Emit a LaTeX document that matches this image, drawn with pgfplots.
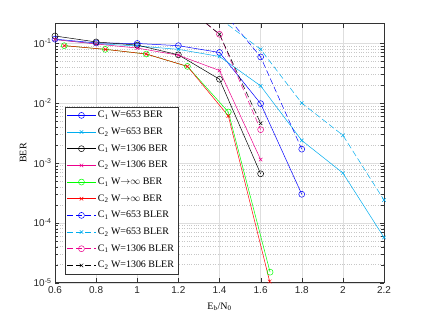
\documentclass[border=0pt]{standalone}
\usepackage{pgfplots}
\pgfplotsset{compat=1.18}
\usepackage{fontspec}
\setmainfont{Liberation Serif}
\newfontfamily\sansf{Liberation Sans}
\begin{document}
\begin{tikzpicture}
\path[use as bounding box] (-55bp,-36.3bp) rectangle (370bp,282.7bp);
\begin{axis}[
  at={(0,0)}, anchor=south west, scale only axis,
  width=329bp, height=259.4bp,
  xmin=0.6, xmax=2.2, ymode=log, ymin=1e-5, ymax=0.215,
  xtick={0.6,0.8,1,1.2,1.4,1.6,1.8,2,2.2},
  xticklabels={0.6,0.8,1,1.2,1.4,1.6,1.8,2,2.2},
  ytick={1e-5,1e-4,1e-3,1e-2,1e-1},
  yticklabels={10\textsuperscript{-5},10\textsuperscript{-4},10\textsuperscript{-3},10\textsuperscript{-2},10\textsuperscript{-1}},
  ticklabel style={font=\sansf\fontsize{10}{12}\selectfont, text=black!85},
  grid=both,
  major grid style={black!13, line width=0.4pt},
  minor grid style={black!22, dotted, line width=0.4pt},
  axis line style={black!80, line width=0.5pt},
  tick style={black!80},
  xlabel={E\textsubscript{b}/N\textsubscript{0}},
  ylabel={BER},
  xlabel style={at={(axis description cs:0.5,-0.0925)}, anchor=center, font=\fontsize{10}{12}\selectfont},
  ylabel style={at={(axis description cs:-0.097,0.5)}, anchor=center, font=\fontsize{10}{12}\selectfont},
  legend style={at={(axis description cs:0.03,0.033)}, anchor=south west,
    font=\fontsize{10}{12}\selectfont, draw=black!80, fill=white, row sep=4.6pt,
    inner xsep=2pt, inner ysep=2.5pt},
  legend cell align=left,
  legend image code/.code={\draw[mark repeat=2,mark phase=2] plot coordinates {(0cm,0cm)(0.5cm,0cm)(1.0cm,0cm)};},
  every axis plot/.append style={line width=0.5pt},
]
% C1 W=653 BER
\addplot[blue, mark=o, mark size=3pt] coordinates {(0.6,0.117)(0.8,0.101)(1.0,0.099)(1.2,0.091)(1.4,0.070)(1.6,0.0098)(1.8,0.00030)};
\addlegendentry{C\textsubscript{1} W=653 BER}
% C2 W=653 BER
\addplot[cyan, mark=x, mark size=2.5pt] coordinates {(0.6,0.115)(0.8,0.098)(1.0,0.090)(1.2,0.079)(1.4,0.060)(1.6,0.0194)(1.8,0.00238)(2.0,0.00068)(2.2,0.000057)};
\addlegendentry{C\textsubscript{2} W=653 BER}
% C1 W=1306 BER
\addplot[black, mark=o, mark size=3pt] coordinates {(0.6,0.132)(0.8,0.105)(1.0,0.093)(1.2,0.064)(1.4,0.025)(1.6,0.00066)};
\addlegendentry{C\textsubscript{1} W=1306 BER}
% C2 W=1306 BER
\addplot[magenta, mark=x, mark size=2.5pt] coordinates {(0.6,0.115)(0.8,0.097)(1.0,0.083)(1.2,0.063)(1.4,0.035)(1.6,0.00114)};
\addlegendentry{C\textsubscript{2} W=1306 BER}
% C1 W->inf BER
\addplot[green, mark=o, mark size=3pt] coordinates {(0.645,0.091)(0.845,0.079)(1.044,0.066)(1.244,0.041)(1.443,0.0071)(1.646,0.000015)};
\addlegendentry{C\textsubscript{1} W$\mathord{\rightarrow}\infty$ BER}
% C2 W->inf BER
\addplot[red, mark=x, mark size=2.5pt] coordinates {(0.645,0.091)(0.845,0.079)(1.044,0.066)(1.244,0.041)(1.443,0.0061)(1.644,0.0000105)};
\addlegendentry{C\textsubscript{2} W$\mathord{\rightarrow}\infty$ BER}
% C1 W=653 BLER
\addplot[blue, dash pattern=on 6pt off 3pt, mark=o, mark size=3pt, mark options={solid}] coordinates {(1.2,0.9)(1.4,0.40)(1.6,0.059)(1.8,0.0017)};
\addlegendentry{C\textsubscript{1} W=653 BLER}
% C2 W=653 BLER
\addplot[cyan, dash pattern=on 6pt off 3pt, mark=x, mark size=2.5pt, mark options={solid}] coordinates {(1.2,0.9)(1.4,0.26)(1.6,0.079)(1.8,0.0100)(2.0,0.0029)(2.2,0.00024)};
\addlegendentry{C\textsubscript{2} W=653 BLER}
% C1 W=1306 BLER
\addplot[magenta, dash pattern=on 6pt off 3pt, mark=o, mark size=3pt, mark options={solid}] coordinates {(1.2,0.5)(1.4,0.141)(1.6,0.0036)};
\addlegendentry{C\textsubscript{1} W=1306 BLER}
% C2 W=1306 BLER
\addplot[black, dash pattern=on 6pt off 3pt, mark=x, mark size=2.5pt, mark options={solid}] coordinates {(1.2,0.52)(1.4,0.141)(1.6,0.0046)};
\addlegendentry{C\textsubscript{2} W=1306 BLER}
\end{axis}
\end{tikzpicture}
\end{document}
